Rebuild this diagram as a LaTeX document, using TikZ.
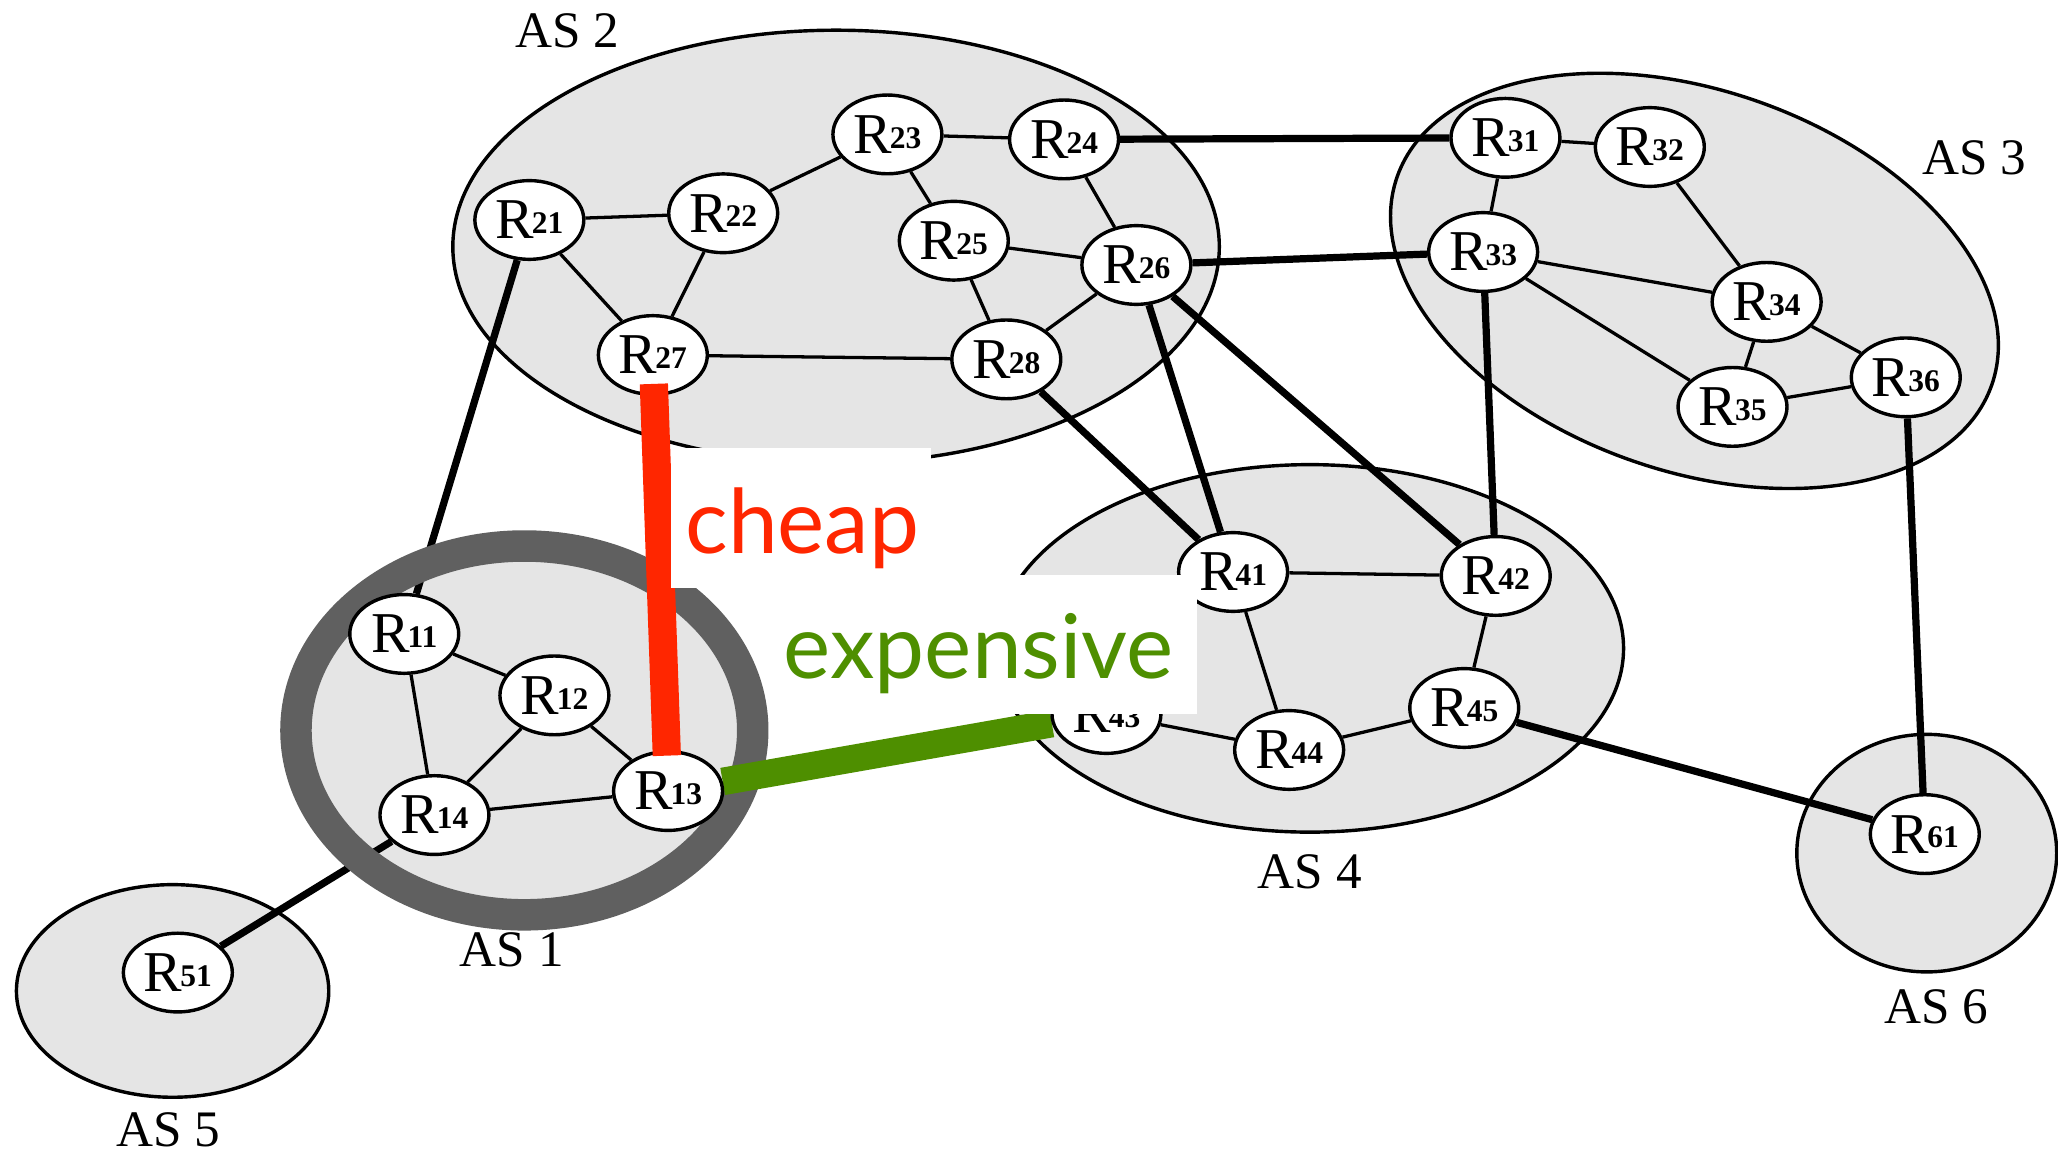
\documentclass[tikz,border=0pt]{standalone}
\usepackage{fontspec}
\setmainfont{Liberation Serif}
\newfontfamily\labelsans{Lato}
\usetikzlibrary{shapes.geometric,calc}
\definecolor{asgray}{RGB}{229,229,229}
\definecolor{ringgray}{RGB}{96,96,96}
\definecolor{cheapred}{RGB}{255,38,0}
\definecolor{expgreen}{RGB}{78,143,0}
\newcommand{\rlab}[1]{R\kern-1.5pt\raisebox{4pt}{\fontsize{24}{24}\selectfont\bfseries #1}}
\pgfdeclarelayer{bg}
\pgfdeclarelayer{edgel}
\pgfdeclarelayer{ringl}
\pgfdeclarelayer{front}
\pgfsetlayers{bg,edgel,ringl,main,front}
\begin{document}
\begin{tikzpicture}[x=1pt,y=-1pt,
  asreg/.style={ellipse, draw=black, fill=asgray, line width=2.6pt, inner sep=0pt},
  router/.style={ellipse, draw=black, fill=white, line width=2.6pt, inner sep=0pt,
     minimum width=83pt, minimum height=60pt, font=\fontsize{44}{44}\selectfont},
  aslabel/.style={inner sep=0pt, font=\fontsize{39}{39}\selectfont},
  thin/.style={line width=2.5pt},
  thick/.style={line width=5.5pt},
  cheapline/.style={cheapred, line width=21.5pt},
  expline/.style={expgreen, line width=21pt},
  labelbox/.style={fill=white, inner sep=0pt, anchor=north west},
  costlabel/.style={inner sep=0pt, anchor=base west, font=\labelsans\fontsize{68}{68}\selectfont}]
\useasboundingbox (0,0) rectangle (1568,878);

% AS regions
\begin{pgfonlayer}{bg}
\node[asreg, minimum width=584pt, minimum height=330pt] (AS2) at (637,188) {};
\node[asreg, minimum width=480pt, minimum height=290pt, rotate=-19.3] (AS3) at (1291,214) {};
\node[asreg, minimum width=478pt, minimum height=280pt] (AS4) at (998,494) {};
\node[asreg, minimum width=238pt, minimum height=162pt] (AS5) at (131.5,755) {};
\node[asreg, minimum width=198pt, minimum height=181pt] (AS6) at (1468,650) {};
\node[ellipse, fill=asgray, inner sep=0pt, minimum width=348pt, minimum height=281pt] (AS1) at (399.5,556.5) {};
\end{pgfonlayer}

% AS labels
\node[aslabel] (L1) at (390,723.5) {AS 1};
\node[aslabel] (L2) at (432,23.5) {AS 2};
\node[aslabel] (L3) at (1504,120) {AS 3};
\node[aslabel] (L4) at (998,664) {AS 4};
\node[aslabel] (L5) at (128.5,861) {AS 5};
\node[aslabel] (L6) at (1475,767) {AS 6};

% routers
\node[router] (R11) at (308,483) {\rlab{11}};
\node[router] (R12) at (422.4,529.8) {\rlab{12}};
\node[router] (R13) at (509,602.7) {\rlab{13}};
\node[router] (R14) at (331,621) {\rlab{14}};
\node[router] (R21) at (403.3,167.6) {\rlab{21}};
\node[router] (R22) at (551,162.5) {\rlab{22}};
\node[router] (R23) at (676.1,102.4) {\rlab{23}};
\node[router] (R24) at (810.7,106.2) {\rlab{24}};
\node[router] (R25) at (726.7,183.4) {\rlab{25}};
\node[router] (R26) at (865.8,201.9) {\rlab{26}};
\node[router] (R27) at (497.4,270.5) {\rlab{27}};
\node[router] (R28) at (766.7,273.8) {\rlab{28}};
\node[router] (R31) at (1147,105) {\rlab{31}};
\node[router] (R32) at (1257,112) {\rlab{32}};
\node[router] (R33) at (1130,192) {\rlab{33}};
\node[router] (R34) at (1346,230) {\rlab{34}};
\node[router] (R35) at (1320,310) {\rlab{35}};
\node[router] (R36) at (1452,287.5) {\rlab{36}};
\node[router] (R41) at (939.5,435.8) {\rlab{41}};
\node[router] (R42) at (1139.6,438.8) {\rlab{42}};
\node[router] (R43) at (843,544) {\rlab{43}};
\node[router] (R44) at (982.2,571.4) {\rlab{44}};
\node[router] (R45) at (1115.6,539.4) {\rlab{45}};
\node[router] (R51) at (135.5,741) {\rlab{51}};
\node[router] (R61) at (1466.5,635.5) {\rlab{61}};

% edges
\begin{pgfonlayer}{edgel}
\draw[thin] (R21) -- (R22);
\draw[thin] (R21) -- (R27);
\draw[thin] (R22) -- (R27);
\draw[thin] (R22) -- (R23);
\draw[thin] (R23) -- (R24);
\draw[thin] (R23) -- (R25);
\draw[thin] (R24) -- (R26);
\draw[thin] (R25) -- (R26);
\draw[thin] (R25) -- (R28);
\draw[thin] (R26) -- (R28);
\draw[thin] (R27) -- (R28);
\draw[thin] (R31) -- (R32);
\draw[thin] (R31) -- (R33);
\draw[thin] (R32) -- (R34);
\draw[thin] (R33) -- (R34);
\draw[thin] (R33) -- (R35);
\draw[thin] (R34) -- (R35);
\draw[thin] (R34) -- (R36);
\draw[thin] (R35) -- (R36);
\draw[thin] (R41) -- (R42);
\draw[thin] (R41) -- (R44);
\draw[thin] (R42) -- (R45);
\draw[thin] (R43) -- (R44);
\draw[thin] (R44) -- (R45);
\draw[thin] (R11) -- (R12);
\draw[thin] (R11) -- (R14);
\draw[thin] (R12) -- (R14);
\draw[thin] (R12) -- (R13);
\draw[thin] (R13) -- (R14);
\draw[thick] (R21) -- (R11);
\draw[thick] (R24) -- (R31);
\draw[thick] (R26) -- (R33);
\draw[thick] (R26) -- (R41);
\draw[thick] (R26) -- (R42);
\draw[thick] (R28) -- (R41);
\draw[thick] (R33) -- (R42);
\draw[thick] (R36) -- (R61);
\draw[thick] (R45) -- (R61);
\draw[thick] (R14) -- (R51);
\end{pgfonlayer}

% AS 1 ring and expensive link
\begin{pgfonlayer}{ringl}
\draw[ringgray, line width=24pt] (AS1.center) ellipse [x radius=174pt, y radius=140.5pt];
\draw[expline] (R13) -- (R43);
\end{pgfonlayer}

% cheap link and labels
\begin{pgfonlayer}{front}
\draw[cheapline, shorten <=22pt, shorten >=27pt] (R27.center) -- (R13.center);
\node[labelbox, minimum width=198pt, minimum height=106pt] (cheapbox) at (511,341.5) {};
\node[labelbox, minimum width=324pt, minimum height=106pt] (expbox) at (588,438) {};
\node[costlabel, text=cheapred] (cheap) at (522,422) {cheap};
\node[costlabel, text=expgreen] (expensive) at (597,517) {expensive};
\end{pgfonlayer}
\end{tikzpicture}
\end{document}
